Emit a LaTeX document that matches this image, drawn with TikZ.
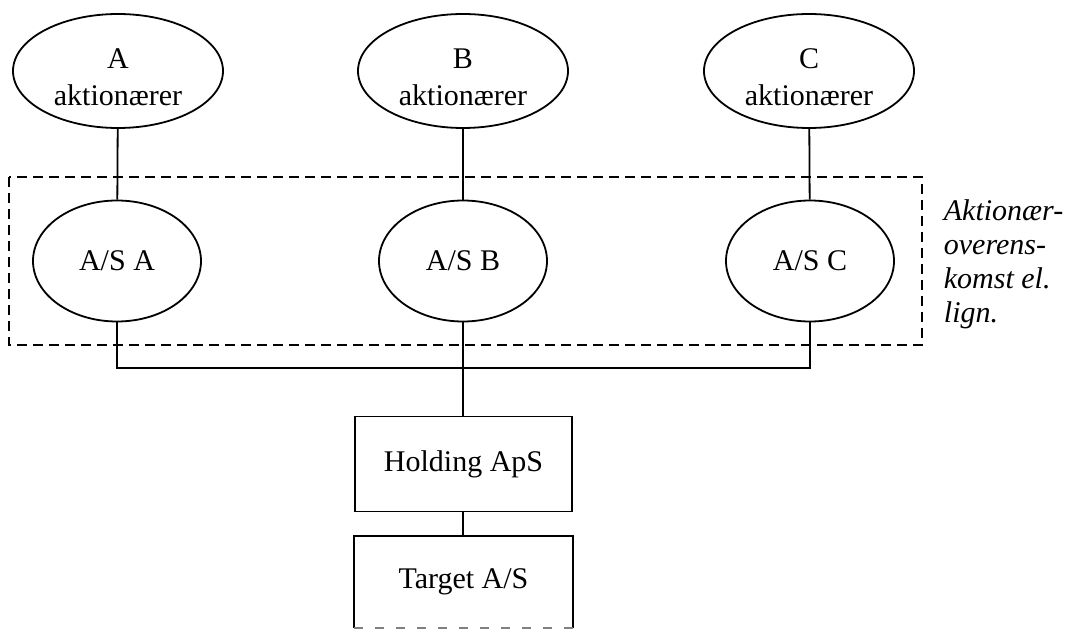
\documentclass[tikz,border=0pt]{standalone}
\usepackage{fontspec}
\setmainfont{Liberation Serif}
\usetikzlibrary{shapes.geometric}
\begin{document}
\begin{tikzpicture}[x=1pt,y=-1pt,
  line width=1.8pt,
  every node/.style={font=\fontsize{30}{37}\selectfont, align=center, inner sep=0pt},
  owner/.style={draw, ellipse, minimum width=210pt, minimum height=114pt},
  company/.style={draw, ellipse, minimum width=168pt, minimum height=121pt},
  pact/.style={dashed, dash pattern=on 10pt off 6pt, line width=1.6pt}]
\useasboundingbox (0,0) rectangle (1074,631);

% shareholders
\node[owner] (ellA) at (118,71) {};
\node[owner] (ellB) at (463,71) {};
\node[owner] (ellC) at (809,71) {};
\node (txtA) at (118,77) {A\\aktionærer};
\node (txtB) at (463,77) {B\\aktionærer};
\node (txtC) at (809,77) {C\\aktionærer};

% holding companies of each shareholder group
\node[company] (asA) at (117,261) {\raisebox{-3pt}{A/S A}};
\node[company] (asB) at (463,261) {\raisebox{-3pt}{A/S B}};
\node[company] (asC) at (810,261) {\raisebox{-3pt}{A/S C}};

% shareholders' agreement frame and its label
\draw[pact] (9,177) rectangle (922,345);
\node[anchor=north west, align=left, font=\fontsize{30}{34}\selectfont\itshape]
  (note) at (943,199) {Aktionær-\\overens-\\komst el.\\lign.};

% joint holding and target
\node[draw, rectangle, minimum width=217pt, minimum height=95pt] (hold) at (463.5,464) {Holding ApS};
\node[minimum width=217pt, minimum height=90pt] (target) at (463.5,582) {Target A/S};
\draw (target.south west) -- (target.north west) -- (target.north east) -- (target.south east);
\draw[dashed, dash pattern=on 9pt off 12pt, gray, line width=1.2pt]
  (target.south west) -- (target.south east);

% ownership lines
\coordinate (bus) at (463,368);
\draw (ellA) -- (asA);
\draw (ellB) -- (asB);
\draw (ellC) -- (asC);
\draw (asA.south) -- (asA.south |- bus) -- (asC.south |- bus) -- (asC.south);
\draw (asB.south) -- (asB.south |- hold.north);
\draw (hold.south -| asB.south) -- (target.north -| asB.south);
\end{tikzpicture}
\end{document}
